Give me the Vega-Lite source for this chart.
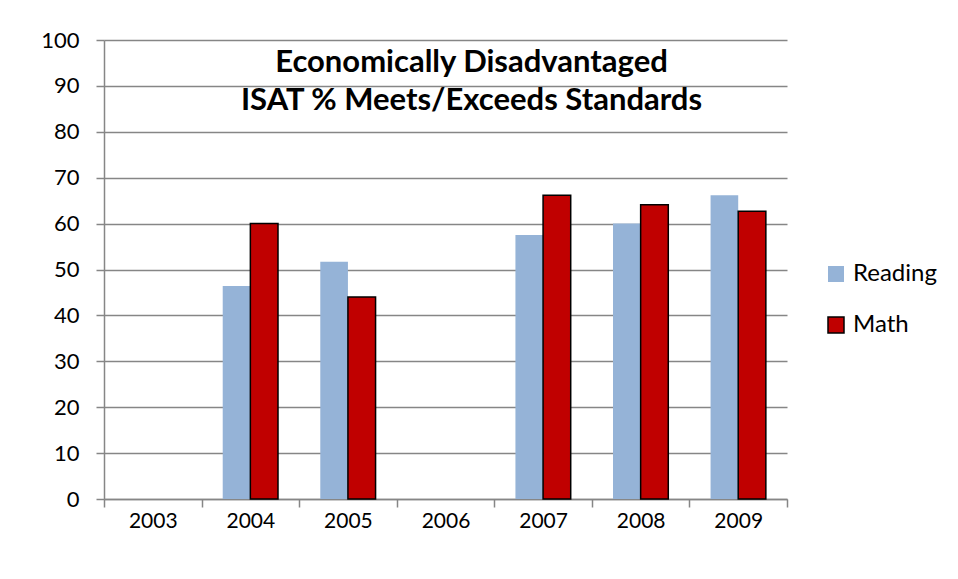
{
  "$schema": "https://vega.github.io/schema/vega-lite/v6.json",
  "width": 683,
  "height": 459,
  "autosize": "none",
  "padding": {"left": 104, "top": 40, "right": 171, "bottom": 80},
  "background": "white",
  "title": {
    "text": ["Economically Disadvantaged", "ISAT % Meets/Exceeds Standards"],
    "anchor": "middle",
    "orient": "top",
    "baseline": "top",
    "offset": -78,
    "dx": 26,
    "dy": 10,
    "font": "Lato",
    "fontSize": 31,
    "fontWeight": "bold",
    "lineHeight": 38,
    "color": "#000000"
  },
  "data": {
    "values": [
      {"year": "2004", "subject": "Reading", "value": 46.4},
      {"year": "2004", "subject": "Math", "value": 60.0},
      {"year": "2005", "subject": "Reading", "value": 51.7},
      {"year": "2005", "subject": "Math", "value": 44.0},
      {"year": "2007", "subject": "Reading", "value": 57.5},
      {"year": "2007", "subject": "Math", "value": 66.2},
      {"year": "2008", "subject": "Reading", "value": 60.0},
      {"year": "2008", "subject": "Math", "value": 64.1},
      {"year": "2009", "subject": "Reading", "value": 66.2},
      {"year": "2009", "subject": "Math", "value": 62.7}
    ]
  },
  "mark": {"type": "bar", "strokeWidth": 1.5},
  "encoding": {
    "x": {
      "field": "year",
      "type": "nominal",
      "scale": {"domain": ["2003", "2004", "2005", "2006", "2007", "2008", "2009"], "paddingInner": 0, "paddingOuter": 0},
      "axis": {
        "title": null,
        "labelAngle": 0,
        "tickBand": "extent",
        "tickSize": 8,
        "tickColor": "#868686",
        "tickWidth": 1.5,
        "domainColor": "#868686",
        "domainWidth": 1.5,
        "labelFont": "Lato",
        "labelFontSize": 21,
        "labelColor": "#000000",
        "labelPadding": 3,
        "grid": false
      }
    },
    "xOffset": {
      "field": "subject",
      "type": "nominal",
      "sort": ["Reading", "Math"],
      "scale": {"paddingInner": 0, "paddingOuter": 0.765}
    },
    "y": {
      "field": "value",
      "type": "quantitative",
      "scale": {"domain": [0, 100], "nice": false},
      "axis": {
        "title": null,
        "values": [0, 10, 20, 30, 40, 50, 60, 70, 80, 90, 100],
        "tickSize": 8,
        "tickColor": "#868686",
        "tickWidth": 1.5,
        "domainColor": "#868686",
        "domainWidth": 1.5,
        "gridColor": "#868686",
        "gridWidth": 1.5,
        "labelFont": "Lato",
        "labelFontSize": 22,
        "labelColor": "#000000",
        "labelPadding": 17
      }
    },
    "fill": {
      "field": "subject",
      "type": "nominal",
      "sort": ["Reading", "Math"],
      "scale": {"domain": ["Reading", "Math"], "range": ["#95B3D7", "#C00000"]},
      "legend": {
        "title": null,
        "orient": "none",
        "legendX": 720,
        "legendY": 222,
        "symbolType": "square",
        "symbolSize": 256,
        "symbolStrokeWidth": 1.5,
        "labelFont": "Lato",
        "labelFontSize": 24,
        "labelColor": "#000000",
        "rowPadding": 27,
        "labelOffset": 5
      }
    },
    "stroke": {
      "field": "subject",
      "type": "nominal",
      "sort": ["Reading", "Math"],
      "scale": {"domain": ["Reading", "Math"], "range": ["rgba(0,0,0,0)", "#000000"]}
    }
  },
  "config": {
    "view": {"stroke": null}
  }
}
